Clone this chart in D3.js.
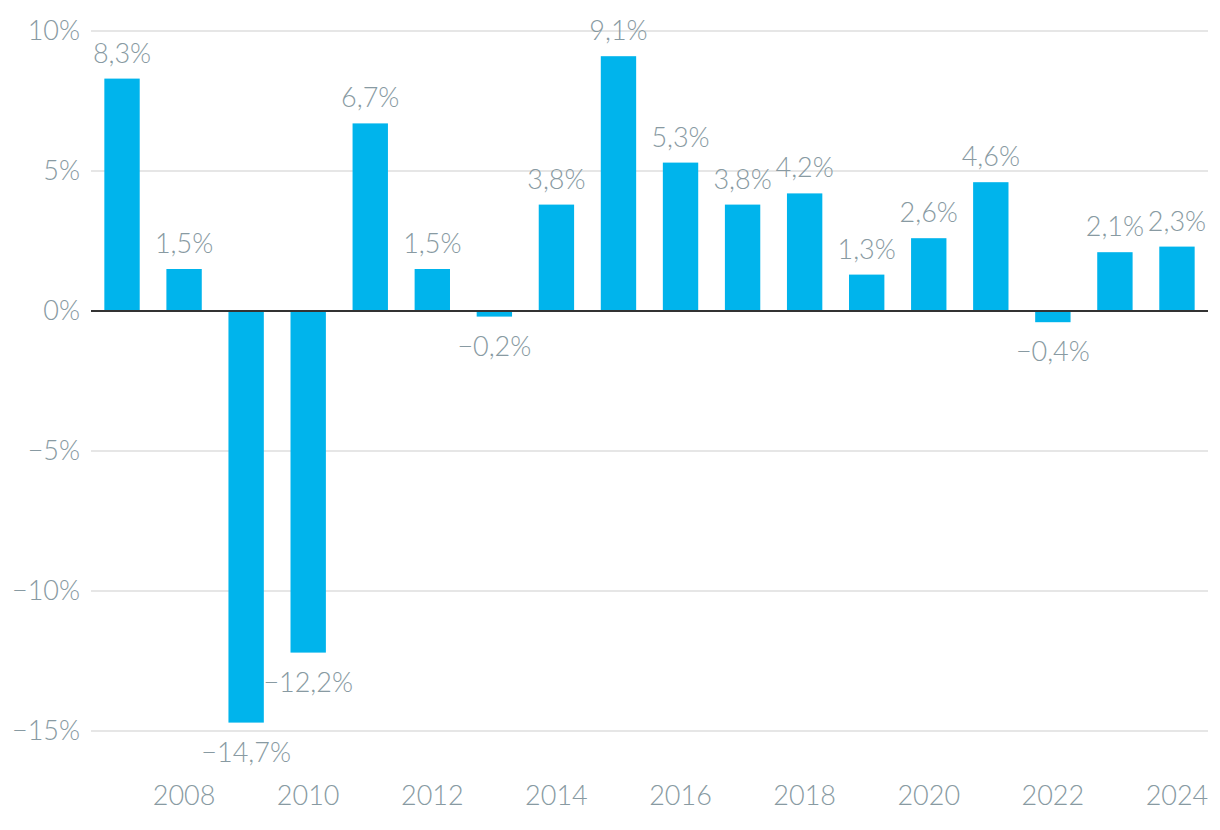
<!DOCTYPE html>
<html><head><meta charset="utf-8">
<script src="https://cdn.jsdelivr.net/npm/d3@7"></script>
<style>body{margin:0;background:#fff;} text{font-family:Lato,sans-serif;font-weight:300;}</style>
</head><body>
<svg id="c" width="1220" height="830"></svg>
<script>
const years = [2007,2008,2009,2010,2011,2012,2013,2014,2015,2016,2017,2018,2019,2020,2021,2022,2023,2024];
const values = [8.3,1.5,-14.7,-12.2,6.7,1.5,-0.2,3.8,9.1,5.3,3.8,4.2,1.3,2.6,4.6,-0.4,2.1,2.3];
const yTicks = [10,5,0,-5,-10,-15];
const xTickYears = [2008,2010,2012,2014,2016,2018,2020,2022,2024];

(function(){
const svg = d3.select("#c");
const pL = 91, pR = 1208, pT = 31, pB = 731;
const textColor = "#889aa2";
const fs = 27;
const x = d3.scaleBand().domain(years).range([pL, pR]).paddingInner(0.43).paddingOuter(0.215);
const y = d3.scaleLinear().domain([-15, 10]).range([pB, pT]);
const fmt = v => (v < 0 ? "\u2212" : "") + Math.abs(v).toFixed(1).replace(".", ",") + "%";

svg.append("g").selectAll("line").data(yTicks.filter(d => d !== 0)).join("line")
  .attr("x1", pL).attr("x2", pR).attr("y1", d => y(d)).attr("y2", d => y(d))
  .attr("stroke", "#e6e6e6").attr("stroke-width", 2);

svg.append("g").selectAll("text").data(yTicks).join("text")
  .attr("x", 80).attr("y", d => y(d)).attr("dy", "0.35em")
  .attr("text-anchor", "end").attr("fill", textColor).attr("font-size", fs)
  .text(d => (d < 0 ? "\u2212" : "") + Math.abs(d) + "%");

svg.append("g").selectAll("rect").data(values).join("rect")
  .attr("x", (d, i) => x(years[i])).attr("width", x.bandwidth())
  .attr("y", d => y(Math.max(0, d))).attr("height", d => Math.abs(y(d) - y(0)))
  .attr("fill", "#00b4ec");

svg.append("line").attr("x1", pL).attr("x2", pR).attr("y1", y(0)).attr("y2", y(0))
  .attr("stroke", "#333").attr("stroke-width", 2);

svg.append("g").selectAll("text").data(values).join("text")
  .attr("x", (d, i) => x(years[i]) + x.bandwidth() / 2)
  .attr("y", d => d >= 0 ? y(d) - 16 : y(d) + 39)
  .attr("text-anchor", "middle").attr("fill", textColor).attr("font-size", fs)
  .text(fmt);

svg.append("g").selectAll("text").data(xTickYears).join("text")
  .attr("x", d => x(d) + x.bandwidth() / 2).attr("y", 805)
  .attr("text-anchor", "middle").attr("fill", textColor).attr("font-size", fs)
  .text(d => d);
})();
</script>
</body></html>
